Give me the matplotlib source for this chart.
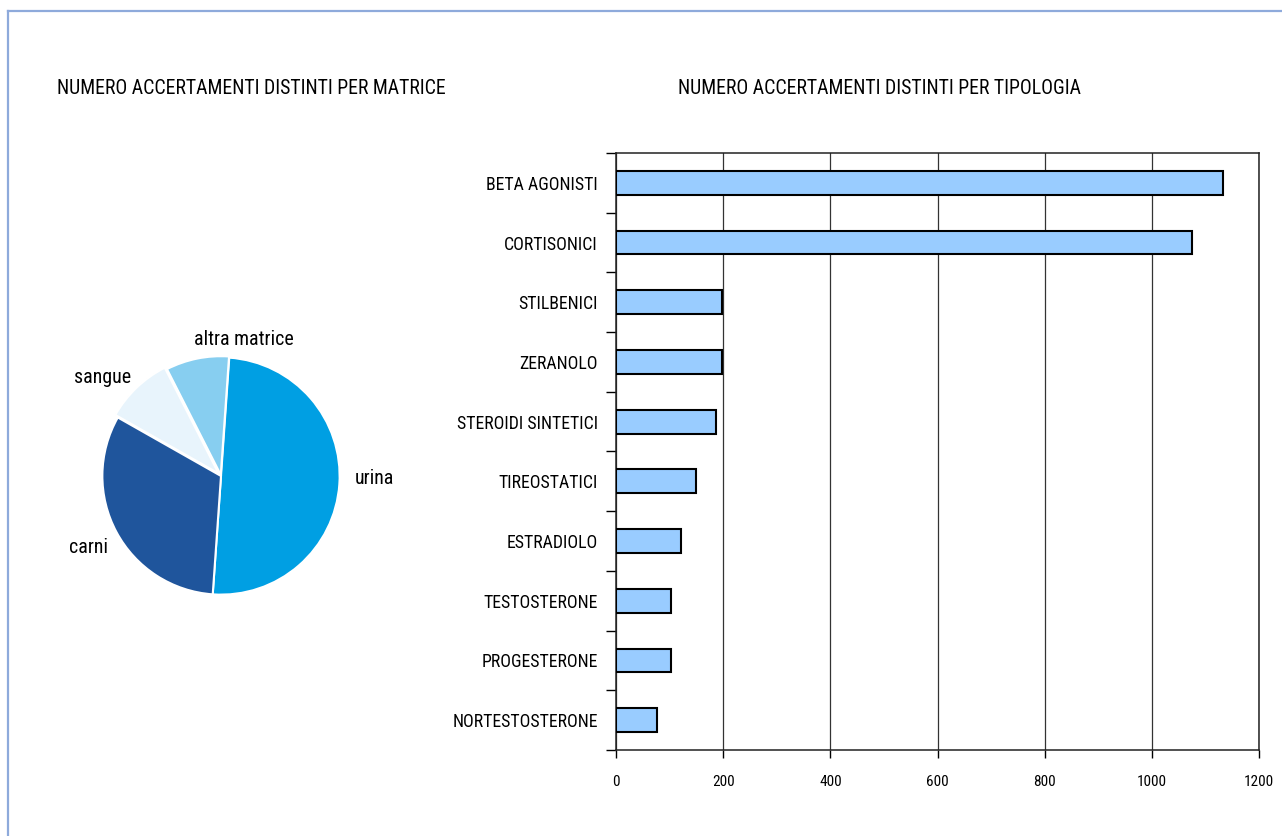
import matplotlib
matplotlib.use('Agg')
import matplotlib.pyplot as plt
from matplotlib.lines import Line2D
import numpy as np

plt.rcParams['font.family'] = ['Roboto Condensed', 'DejaVu Sans Condensed',
                               'Liberation Sans Narrow', 'Liberation Sans', 'DejaVu Sans']

# pie data (share of checks by matrix, %)
matrici = ['urina', 'carni', 'sangue', 'altra matrice']
quote = [50.0, 32.1, 9.3, 8.6]
colori_pie = ['#009FE3', '#1F559C', '#E8F4FC', '#87CEF0']

# bar data (number of checks by type)
tipologie = ['BETA AGONISTI', 'CORTISONICI', 'STILBENICI', 'ZERANOLO',
             'STEROIDI SINTETICI', 'TIREOSTATICI', 'ESTRADIOLO',
             'TESTOSTERONE', 'PROGESTERONE', 'NORTESTOSTERONE']
accertamenti = [1132, 1075, 197, 197, 187, 150, 121, 102, 102, 76]
xticks = [0, 200, 400, 600, 800, 1000, 1200]

W, H = 1282, 836
fig = plt.figure(figsize=(W / 100, H / 100), dpi=100)

def px_axes(x0, y0, x1, y1):
    # pixel box (top-left origin) -> figure fraction
    return fig.add_axes([x0 / W, 1 - y1 / H, (x1 - x0) / W, (y1 - y0) / H])

# outer frame (top and left edges only)
fc = '#8EAADB'
fig.add_artist(Line2D([8 / W, 1], [1 - 11 / H, 1 - 11 / H], color=fc, lw=1.6,
                      transform=fig.transFigure))
fig.add_artist(Line2D([8 / W, 8 / W], [0, 1 - 11 / H], color=fc, lw=1.6,
                      transform=fig.transFigure))

# titles
fig.text(57 / W, 1 - 88 / H, 'NUMERO ACCERTAMENTI DISTINTI PER MATRICE',
         fontsize=14.2, ha='left', va='center')
fig.text(880 / W, 1 - 88 / H, 'NUMERO ACCERTAMENTI DISTINTI PER TIPOLOGIA',
         fontsize=14.2, ha='center', va='center')

# pie
axp = px_axes(100, 355, 342, 597)
axp.pie(quote, colors=colori_pie, startangle=86, counterclock=False,
        explode=[0, 0, 0.03, 0.01],
        wedgeprops=dict(edgecolor='white', linewidth=1.5))
axp.set_xlim(-1.02, 1.02)
axp.set_ylim(-1.02, 1.02)
axp.set_aspect('equal')
axp.axis('off')
pos_lab = [(1.29, -0.02), (-1.12, -0.60), (-1.0, 0.83), (0.19, 1.15)]
for nome, (lx, ly) in zip(matrici, pos_lab):
    axp.text(lx, ly, nome, fontsize=14.3, ha='center', va='center', clip_on=False)

# bars
axb = px_axes(616, 153, 1259, 750)
y = np.arange(len(tipologie))
axb.barh(y, accertamenti, height=0.4, color='#99CCFF', edgecolor='black',
         linewidth=1.5, zorder=3)
axb.set_xlim(0, 1200)
axb.set_ylim(len(tipologie) - 0.5, -0.5)
axb.set_xticks(xticks)
axb.set_xticklabels([str(v) for v in xticks], fontsize=11)
axb.tick_params(axis='x', length=6, width=1, pad=12, direction='out')
axb.set_yticks(np.arange(len(tipologie) + 1) - 0.5)
axb.set_yticklabels([])
axb.tick_params(axis='y', which='major', length=7, width=1, direction='out')
axb.set_yticks(y, minor=True)
axb.set_yticklabels(tipologie, minor=True, fontsize=12.8)
axb.tick_params(axis='y', which='minor', length=0, pad=13)
axb.grid(axis='x', color='#333333', linewidth=0.9, zorder=0)
for s in axb.spines.values():
    s.set_linewidth(1.1)
    s.set_color('#222222')

fig.savefig('out.png', dpi=100)
